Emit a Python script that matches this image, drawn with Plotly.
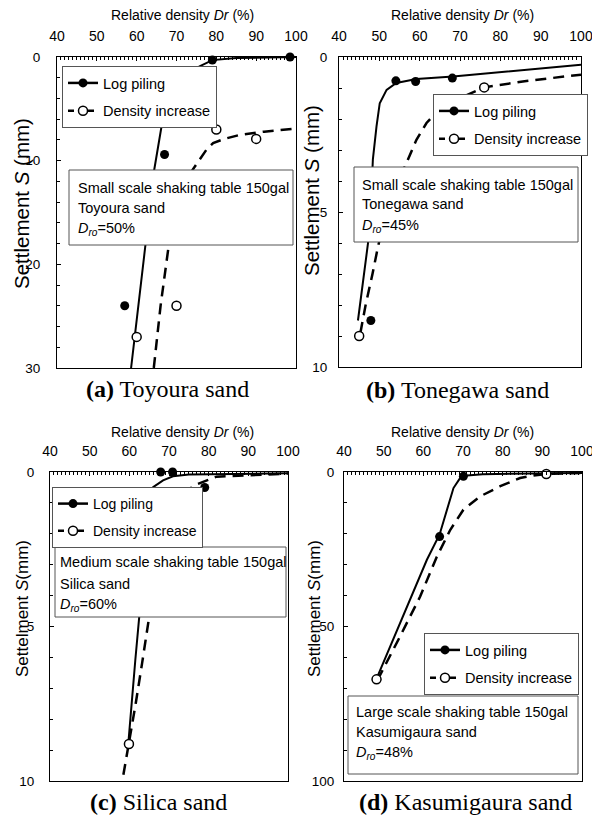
import plotly.graph_objects as go

# the page body has an 8px margin, so the figure is sized to fit the 600x827 window
OFF = 8
W, H = 600 - 2 * OFF, 827 - 2 * OFF
SANS = "Liberation Sans, Arial, sans-serif"
SERIF = "Liberation Serif, Times New Roman, serif"


def X(px):
    return (px - OFF) / W


def Y(py):
    return 1 - (py - OFF) / H


# ---------------- data ----------------
x_ticks = [40, 50, 60, 70, 80, 90, 100]

# (a) Toyoura sand
a_log_dr = [98.5, 79, 67, 57]
a_log_s = [0, 0.3, 9.4, 24]
a_den_dr = [80, 90, 70, 60]
a_den_s = [7, 7.9, 24, 27]
a_logfit_dr = [58.6, 61.7, 62.3, 64.4, 66.3, 68, 70.5, 73, 75.9, 79, 85, 100]
a_logfit_s = [30, 20, 18.1, 10.9, 6.56, 4.5, 2.6, 1.5, 0.87, 0.3, 0.1, 0]
a_denfit_dr = [64.3, 66, 67.9, 69.5, 71.5, 74, 77.6, 79.2, 82, 86, 92, 100]
a_denfit_s = [30, 24, 18.6, 15.5, 13, 10.9, 8.9, 8.3, 7.9, 7.5, 7.2, 6.9]

# (b) Tonegawa sand
b_log_dr = [54.1, 59, 68.1, 47.9]
b_log_s = [0.77, 0.79, 0.68, 8.5]
b_den_dr = [76, 45]
b_den_s = [0.98, 9.0]
b_logfit_dr = [44.7, 46.0, 47.2, 48.0, 48.4, 49.3, 50.1, 51.8, 54.2, 59.2, 68.3, 100]
b_logfit_s = [8.5, 7.2, 6.0, 4.5, 3.3, 2.24, 1.49, 1.06, 0.84, 0.71, 0.63, 0.25]
b_denfit_dr = [45.3, 46.6, 48.3, 49.7, 52.5, 56.7, 59.2, 61.7, 64.3, 69.1, 76, 86, 100]
b_denfit_s = [8.9, 8.0, 7.0, 6.1, 4.6, 3.43, 2.67, 2.13, 1.76, 1.38, 0.98, 0.78, 0.57]

# (c) Silica sand
c_log_dr = [67.9, 70.9, 79, 60]
c_log_s = [0, 0, 0.5, 8.8]
c_den_dr = [59.9]
c_den_s = [8.8]
c_logfit_dr = [59.8, 60.6, 61.5, 62.5, 63.7, 64.6, 65.3, 66.0, 68.5, 71, 75, 100]
c_logfit_s = [8.7, 7.4, 6.1, 4.68, 2.4, 1.4, 0.85, 0.49, 0.27, 0.14, 0.08, 0.04]
c_denfit_dr = [58.5, 60.0, 61.6, 63.2, 64.7, 66.3, 68.5, 71.5, 76, 82, 100]
c_denfit_s = [9.8, 8.7, 7.5, 6.2, 4.95, 3.6, 2.3, 1.2, 0.45, 0.15, 0.05]

# (d) Kasumigaura sand
d_log_dr = [70.1, 64.1, 48.2]
d_log_s = [1.4, 20.9, 67.1]
d_den_dr = [91.0, 48.2]
d_den_s = [0.65, 67.1]
d_logfit_dr = [48.4, 51, 54.1, 57.5, 60.9, 64.1, 66.2, 67.6, 69.3, 71, 75, 100]
d_logfit_s = [66.3, 58.5, 49, 39, 28.4, 20.2, 11, 5.2, 1.9, 1.1, 0.7, 0.3]
d_denfit_dr = [48.2, 49.1, 54.1, 59.2, 63.4, 66.8, 70.1, 74.3, 79.4, 84.4, 87.8, 91, 100]
d_denfit_s = [67.1, 65.7, 53.3, 40.3, 27.4, 18.7, 12.2, 7.9, 4.6, 1.95, 1.1, 0.65, 0.3]

panels = [
    dict(log=(a_log_dr, a_log_s), den=(a_den_dr, a_den_s), logfit=(a_logfit_dr, a_logfit_s),
         denfit=(a_denfit_dr, a_denfit_s), px=(57, 296, 57, 368), yr=30, ydt=10, ymin=2, ystand=13,
         legend=(62, 66, 14.5), box=(69, 293, 170, 245), tx=76, ty=(188, 208, 229),
         lines=["Small scale shaking table 150gal", "Toyoura sand", "<i>D<sub>ro</sub></i>=50%"],
         xt=(182, 15), yt=(21, 204, "Settlement <i>S</i> (mm)", 20.5),
         cap=(167, 389, "<b>(a)</b> Toyoura sand")),
    dict(log=(b_log_dr, b_log_s), den=(b_den_dr, b_den_s), logfit=(b_logfit_dr, b_logfit_s),
         denfit=(b_denfit_dr, b_denfit_s), px=(339, 581, 57, 367), yr=10, ydt=5, ymin=1, ystand=8,
         legend=(433, 94, 14.5), box=(354, 578, 167, 242), tx=360, ty=(185, 204, 226),
         lines=["Small scale shaking table 150gal", "Tonegawa sand", "<i>D<sub>ro</sub></i>=45%"],
         xt=(463, 15), yt=(312, 191, "Settlement <i>S</i> (mm)", 20.5),
         cap=(457, 390, "<b>(b)</b> Tonegawa sand")),
    dict(log=(c_log_dr, c_log_s), den=(c_den_dr, c_den_s), logfit=(c_logfit_dr, c_logfit_s),
         denfit=(c_denfit_dr, c_denfit_s), px=(50, 288, 472, 781), yr=10, ydt=5, ymin=1, ystand=12,
         legend=(52, 487, 14), box=(55, 286, 547, 617), tx=58, ty=(562, 584, 605),
         lines=["Medium scale shaking table 150gal", "Silica sand", "<i>D<sub>ro</sub></i>=60%"],
         xt=(182, 432), yt=(22, 609, "Settelment <i>S</i>(mm)", 17),
         cap=(158, 802, "<b>(c)</b> Silica sand")),
    dict(log=(d_log_dr, d_log_s), den=(d_den_dr, d_den_s), logfit=(d_logfit_dr, d_logfit_s),
         denfit=(d_denfit_dr, d_denfit_s), px=(344, 582, 472, 781), yr=100, ydt=50, ymin=10, ystand=6,
         legend=(424, 633, 14.5), box=(348, 578, 696, 774), tx=354, ty=(712, 732, 753),
         lines=["Large scale shaking table 150gal", "Kasumigaura sand", "<i>D<sub>ro</sub></i>=48%"],
         xt=(463, 432), yt=(314, 609, "Settlement <i>S</i>(mm)", 17),
         cap=(465, 802, "<b>(d)</b> Kasumigaura sand")),
]

FS = 14.5
fig = go.Figure()
layout = dict(width=W, height=H, margin=dict(l=0, r=0, t=0, b=0, autoexpand=False), autosize=False,
              paper_bgcolor="white", plot_bgcolor="white", showlegend=True)
shapes, annotations = [], []

for i, p in enumerate(panels, start=1):
    sfx = "" if i == 1 else str(i)
    xa, ya = "x" + sfx, "y" + sfx
    lg = "legend" + sfx
    x0, x1, y0, y1 = p["px"]
    layout["xaxis" + sfx] = dict(
        domain=[X(x0), X(x1)], anchor=ya, side="top", range=[40, 100], tickvals=x_ticks,
        ticks="inside", ticklen=4, tickcolor="black", showline=True, linecolor="black",
        linewidth=1, mirror=True, showgrid=False, zeroline=False, automargin=False,
        ticklabeloverflow="allow",
        tickfont=dict(family=SANS, size=14, color="black"), ticklabelstandoff=9,
        minor=dict(dtick=1, ticks="inside", ticklen=3, tickcolor="black", showgrid=False))
    layout["yaxis" + sfx] = dict(
        domain=[Y(y1), Y(y0)], anchor=xa, range=[p["yr"], 0], dtick=p["ydt"], tick0=0,
        ticks="inside", ticklen=4, tickcolor="black", showline=True, linecolor="black",
        linewidth=1, mirror=True, showgrid=False, zeroline=False, automargin=False,
        ticklabeloverflow="allow",
        tickfont=dict(family=SANS, size=13.5, color="black"), ticklabelstandoff=p["ystand"],
        minor=dict(dtick=p["ymin"], ticks="inside", ticklen=3, tickcolor="black", showgrid=False))

    fig.add_trace(go.Scatter(x=p["logfit"][0], y=p["logfit"][1], mode="lines", xaxis=xa, yaxis=ya,
                             line=dict(color="black", width=2), showlegend=False, hoverinfo="skip"))
    fig.add_trace(go.Scatter(x=p["denfit"][0], y=p["denfit"][1], mode="lines", xaxis=xa, yaxis=ya,
                             line=dict(color="black", width=2.5, dash="11px,7px"), showlegend=False,
                             hoverinfo="skip"))
    fig.add_trace(go.Scatter(x=p["log"][0], y=p["log"][1], mode="markers", xaxis=xa, yaxis=ya,
                             marker=dict(symbol="circle", size=9, color="black"), cliponaxis=False,
                             showlegend=False))
    fig.add_trace(go.Scatter(x=p["den"][0], y=p["den"][1], mode="markers", xaxis=xa, yaxis=ya,
                             marker=dict(symbol="circle", size=9, color="white",
                                         line=dict(color="black", width=1.5)), cliponaxis=False,
                             showlegend=False))
    # legend entries
    fig.add_trace(go.Scatter(x=[None], y=[None], mode="lines+markers", name="Log piling",
                             xaxis=xa, yaxis=ya, legend=lg, legendgroup=f"g{i}a",
                             line=dict(color="black", width=2.5),
                             marker=dict(symbol="circle", size=9, color="black")))
    fig.add_trace(go.Scatter(x=[None], y=[None], mode="lines+markers", name="Density increase",
                             xaxis=xa, yaxis=ya, legend=lg, legendgroup=f"g{i}b",
                             line=dict(color="black", width=2.5, dash="6px,4px"),
                             marker=dict(symbol="circle", size=9, color="white",
                                         line=dict(color="black", width=1.5))))
    lx, ly, lfs = p["legend"]
    layout[lg] = dict(x=X(lx), y=Y(ly), xanchor="left", yanchor="top", xref="paper", yref="paper",
                      bgcolor="white", bordercolor="#555555", borderwidth=1,
                      font=dict(family=SANS, size=lfs, color="black"), tracegroupgap=6,
                      itemwidth=30, traceorder="grouped")

    bx0, bx1, by0, by1 = p["box"]
    shapes.append(dict(type="rect", xref="paper", yref="paper", x0=X(bx0), x1=X(bx1),
                       y0=Y(by1), y1=Y(by0), fillcolor="white",
                       line=dict(color="#555555", width=1), layer="above"))
    for t, yy in zip(p["lines"], p["ty"]):
        annotations.append(dict(text=t, xref="paper", yref="paper", x=X(p["tx"]), y=Y(yy),
                                xanchor="left", yanchor="middle", showarrow=False,
                                font=dict(family=SANS, size=FS, color="black")))
    annotations.append(dict(text="Relative density <i>Dr</i> (%)", xref="paper", yref="paper",
                            x=X(p["xt"][0]), y=Y(p["xt"][1]), xanchor="center",
                            yanchor="middle", showarrow=False,
                            font=dict(family=SANS, size=14, color="black")))
    yx, yy, ytxt, ysz = p["yt"]
    annotations.append(dict(text=ytxt, xref="paper", yref="paper", x=X(yx), y=Y(yy),
                            xanchor="center", yanchor="middle", showarrow=False, textangle=-90,
                            font=dict(family=SANS, size=ysz, color="black")))
    cx, cy, ctxt = p["cap"]
    annotations.append(dict(text=ctxt, xref="paper", yref="paper", x=X(cx), y=Y(cy),
                            xanchor="center", yanchor="middle", showarrow=False,
                            font=dict(family=SERIF, size=24, color="black")))

layout["shapes"] = shapes
layout["annotations"] = annotations
fig.update_layout(**layout)
fig.write_html("out.html")
